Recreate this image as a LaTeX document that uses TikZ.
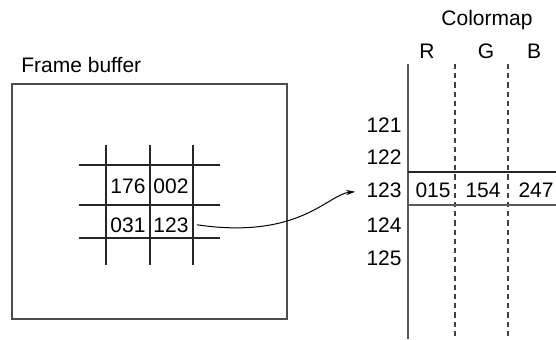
\documentclass[tikz,border=0pt]{standalone}
\usepackage{fontspec}
\setmainfont{Liberation Sans}
\usetikzlibrary{arrows.meta}
\begin{document}
\begin{tikzpicture}[x=0.5pt,y=-0.5pt,
  lbl/.style={inner sep=0pt,font=\fontsize{10.5}{12}\selectfont},
  ln/.style={line width=0.55pt,draw=black!85},
  dsh/.style={line width=0.55pt,draw=black!75,dash pattern=on 2.6pt off 2pt},
  arr/.style={line width=0.5pt,-{Stealth[length=4.5pt,width=2.6pt]}}]
\useasboundingbox (0,0) rectangle (556,339);
% Frame buffer
\node[lbl,anchor=base west] (fbt) at (21,72) {Frame buffer};
\draw[ln,draw=black!70] (12,84) rectangle (287,319);
\foreach \y in {165,205,238} \draw[ln] (79,\y) -- (220,\y);
\foreach \x in {106,150,193} \draw[ln] (\x,145) -- (\x,265);
\node[lbl,anchor=base] (a1) at (128,193) {176};
\node[lbl,anchor=base] (a2) at (171,193) {002};
\node[lbl,anchor=base] (a3) at (128,232) {031};
\node[lbl,anchor=base] (fb123) at (171,232) {123};
% Colormap
\node[lbl,anchor=base] (cmt) at (487,25) {Colormap};
\node[lbl,anchor=base] (cr) at (427,58) {R};
\node[lbl,anchor=base] (cg) at (486,58) {G};
\node[lbl,anchor=base] (cb) at (534,58) {B};
\draw[ln,draw=black!65] (408,64) -- (408,339);
\draw[dsh] (455,64) -- (455,339);
\draw[dsh] (508,64) -- (508,339);
\draw[ln] (408,172) -- (556,172);
\draw[ln,draw=black!65] (408,205) -- (556,205);
\node[lbl,anchor=base east] (c121) at (402,132) {121};
\node[lbl,anchor=base east] (c122) at (402,164) {122};
\node[lbl,anchor=base east] (cm123) at (402,197) {123};
\node[lbl,anchor=base east] (c124) at (402,232) {124};
\node[lbl,anchor=base east] (c125) at (402,265) {125};
\node[lbl,anchor=base east] (vr) at (451,197) {015};
\node[lbl,anchor=base east] (vg) at (501,197) {154};
\node[lbl,anchor=base east] (vb) at (554,197) {247};
\draw[arr] ([xshift=4pt]fb123.east) .. controls (300,240) and (328,194) .. ([xshift=-5.5pt,yshift=-1pt]cm123.west);
\end{tikzpicture}
\end{document}
